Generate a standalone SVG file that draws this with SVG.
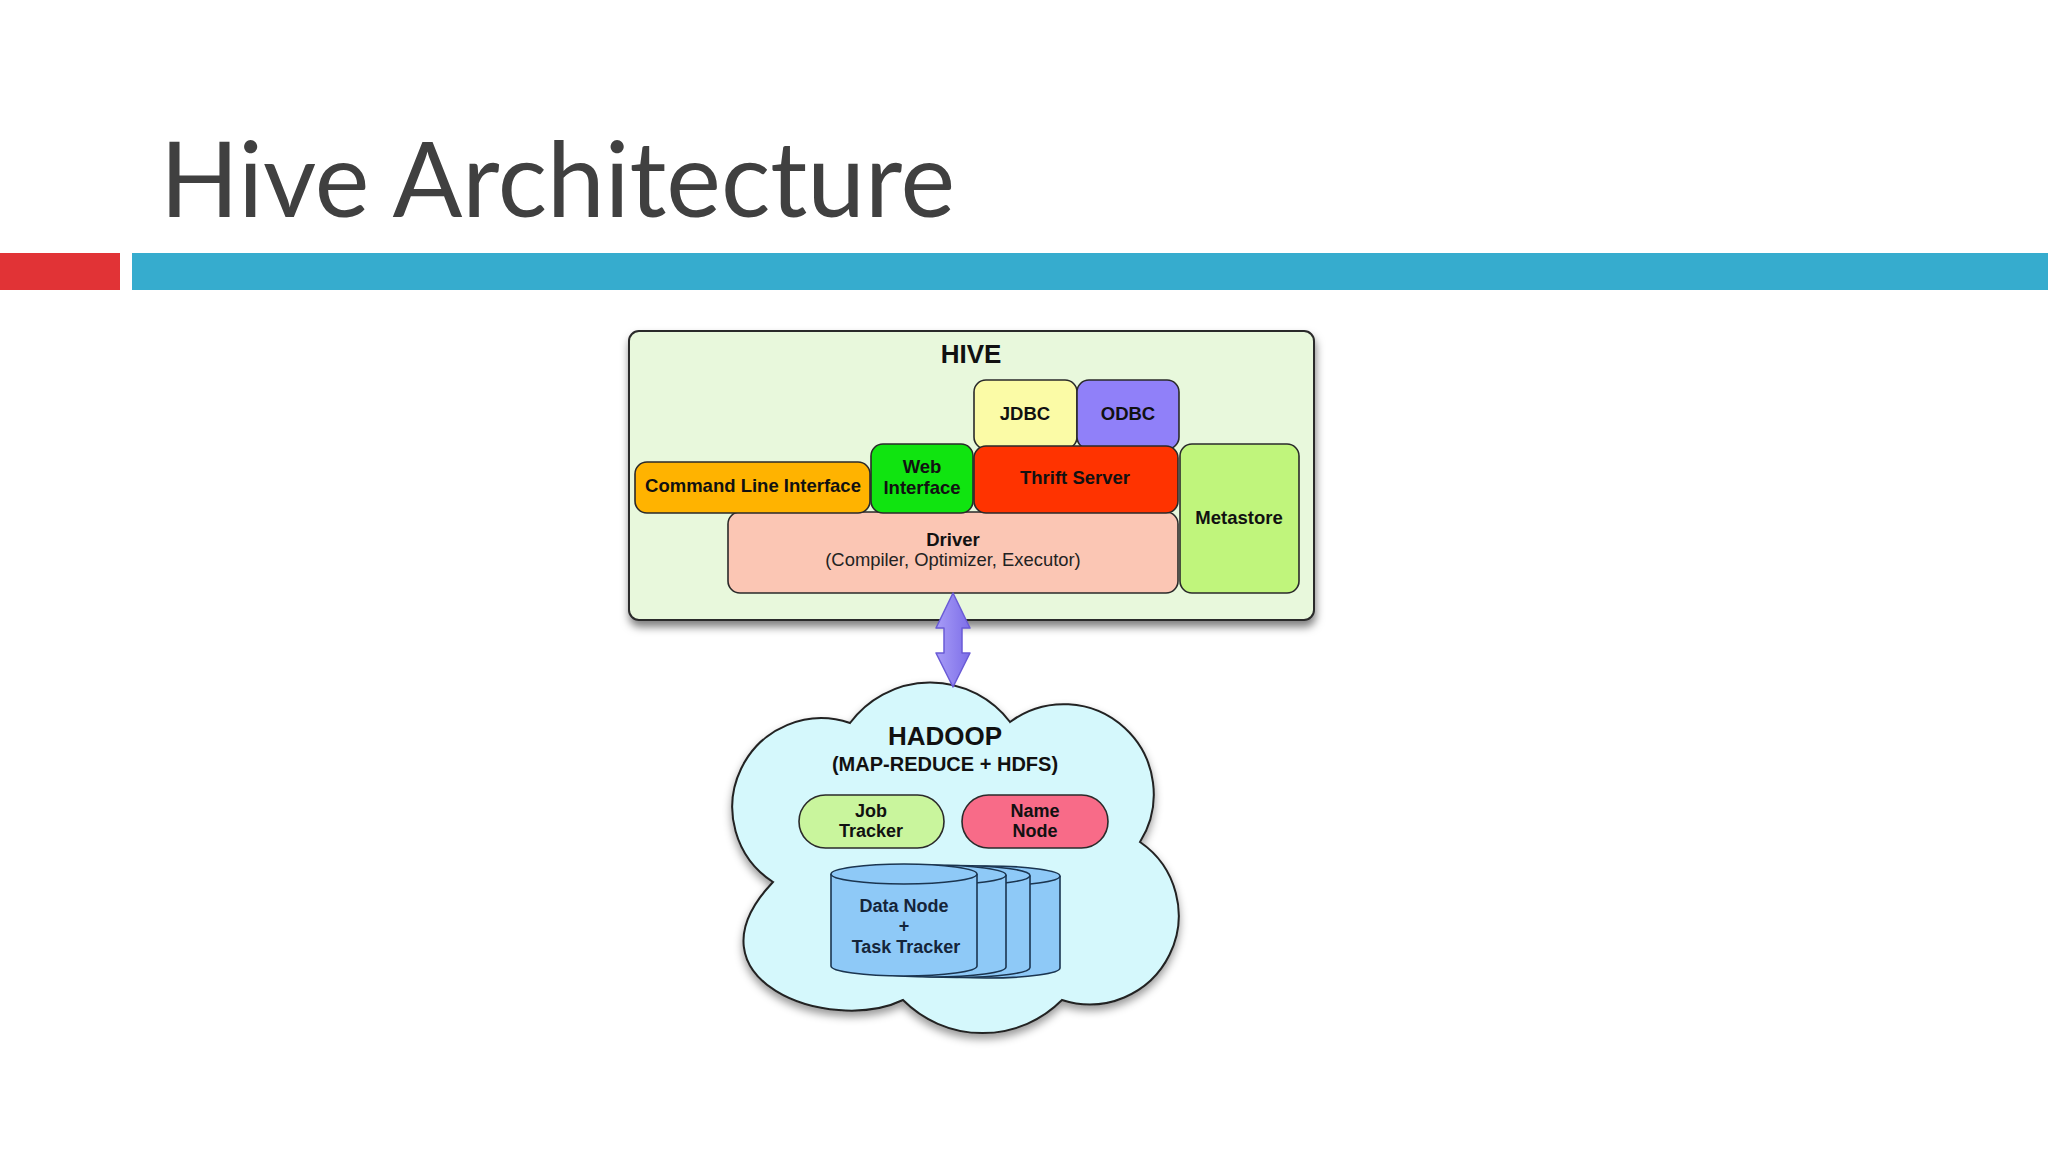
<svg xmlns="http://www.w3.org/2000/svg" width="2048" height="1152" viewBox="0 0 2048 1152">
<defs>
<style>
.box{stroke:#2a2a2a;stroke-width:1.6}
.lbl{font-family:"Liberation Sans",Arial,sans-serif;font-weight:bold;font-size:18.5px;fill:#111;text-anchor:middle}
.reg{font-family:"Liberation Sans",Arial,sans-serif;font-size:18.4px;fill:#222;text-anchor:middle}
.cyl{fill:#8ec9f7;stroke:#1b3550;stroke-width:1.6}
</style>
<filter id="shadow" x="-10%" y="-10%" width="125%" height="135%">
<feDropShadow dx="1" dy="6" stdDeviation="4" flood-color="#000" flood-opacity="0.5"/>
</filter>
<filter id="cshadow" x="-10%" y="-10%" width="125%" height="130%">
<feDropShadow dx="0" dy="5" stdDeviation="4" flood-color="#000" flood-opacity="0.4"/>
</filter>
<linearGradient id="arrowGrad" x1="0" y1="0" x2="1" y2="0">
<stop offset="0" stop-color="#a79cf7"/>
<stop offset="1" stop-color="#7d6ee8"/>
</linearGradient>
</defs>
<rect x="0" y="0" width="2048" height="1152" fill="#ffffff"/>
<g id="title">
<text x="160" y="217" font-family="Lato,'Liberation Sans',sans-serif" font-size="104" fill="#404040" textLength="795" lengthAdjust="spacingAndGlyphs">Hive Architecture</text>
<rect x="0" y="253" width="120" height="37" fill="#e13336"/>
<rect x="132" y="253" width="1916" height="37" fill="#36acce"/>
</g>
<g id="hive">
<rect x="629" y="331" width="685" height="289" rx="10" fill="#e8f8dc" stroke="#2a2a2a" stroke-width="2" filter="url(#shadow)"/>
<text x="971" y="363" class="lbl" style="font-size:26px">HIVE</text>
</g>
<g id="jdbc">
<rect x="974" y="380" width="103" height="69" rx="12" fill="#fbfba6" class="box"/>
<text x="1025" y="420" class="lbl">JDBC</text>
</g>
<g id="odbc">
<rect x="1077" y="380" width="102" height="69" rx="12" fill="#9080f9" class="box"/>
<text x="1128" y="420" class="lbl">ODBC</text>
</g>
<g id="driver">
<rect x="728" y="512" width="450" height="81" rx="12" fill="#fbc6b4" class="box"/>
<text x="953" y="546" class="lbl">Driver</text>
<text x="953" y="566" class="reg">(Compiler, Optimizer, Executor)</text>
</g>
<g id="thrift">
<rect x="974" y="446" width="204" height="67" rx="12" fill="#ff3300" class="box"/>
<text x="1075" y="484" class="lbl">Thrift Server</text>
</g>
<g id="web">
<rect x="871" y="444" width="102" height="69" rx="12" fill="#10e410" class="box"/>
<text x="922" y="473" class="lbl">Web</text>
<text x="922" y="494" class="lbl">Interface</text>
</g>
<g id="cli">
<rect x="635" y="462" width="235" height="51" rx="12" fill="#ffb300" class="box"/>
<text x="753" y="492" class="lbl">Command Line Interface</text>
</g>
<g id="metastore">
<rect x="1180" y="444" width="119" height="149" rx="12" fill="#c0f57c" class="box"/>
<text x="1239" y="524" class="lbl">Metastore</text>
</g>
<g id="hadoop">
<path d="M850,723 A100 100 0 0 1 1010,722 A90 90 0 0 1 1140,842 A89 89 0 0 1 1062,1000 A112 112 0 0 1 903,1000 C830,1035 680,980 773,882 A89 89 0 0 1 850,723 Z" fill="#d5f8fc" stroke="#222" stroke-width="2" filter="url(#cshadow)"/>
<text x="945" y="745" class="lbl" style="font-size:26px">HADOOP</text>
<text x="945" y="771" class="lbl" style="font-size:20px">(MAP-REDUCE + HDFS)</text>
</g>
<g id="jobtracker">
<rect x="799" y="795" width="145" height="53" rx="26.5" fill="#c9f59d" class="box"/>
<text x="871" y="817" class="lbl" style="font-size:18px">Job</text>
<text x="871" y="837" class="lbl" style="font-size:18px">Tracker</text>
</g>
<g id="namenode">
<rect x="962" y="795" width="146" height="53" rx="26.5" fill="#f86b88" class="box"/>
<text x="1035" y="817" class="lbl" style="font-size:18px">Name</text>
<text x="1035" y="837" class="lbl" style="font-size:18px">Node</text>
</g>
<g id="datanodes">
<g transform="translate(83,2)">
<path d="M831,874 L831,966 A73 10 0 0 0 977,966 L977,874" class="cyl"/>
<ellipse cx="904" cy="874" rx="73" ry="10" class="cyl"/>
</g>
<g transform="translate(53,1.5)">
<path d="M831,874 L831,966 A73 10 0 0 0 977,966 L977,874" class="cyl"/>
<ellipse cx="904" cy="874" rx="73" ry="10" class="cyl"/>
</g>
<g transform="translate(29,1)">
<path d="M831,874 L831,966 A73 10 0 0 0 977,966 L977,874" class="cyl"/>
<ellipse cx="904" cy="874" rx="73" ry="10" class="cyl"/>
</g>
<g>
<path d="M831,874 L831,966 A73 10 0 0 0 977,966 L977,874" class="cyl"/>
<ellipse cx="904" cy="874" rx="73" ry="10" class="cyl"/>
</g>
<text x="904" y="912" class="lbl" style="font-size:18px;fill:#15253a">Data Node</text>
<text x="904" y="932" class="lbl" style="font-size:18px;fill:#15253a">+</text>
<text x="906" y="953" class="lbl" style="font-size:18px;fill:#15253a">Task Tracker</text>
</g>
<g id="connectors">
<polygon points="953,593 970,628 962,628 962,653 970,653 953,687 936,653 944,653 944,628 936,628" fill="url(#arrowGrad)" stroke="#6a5bd6" stroke-width="1.5" stroke-linejoin="round"/>
</g>
</svg>
